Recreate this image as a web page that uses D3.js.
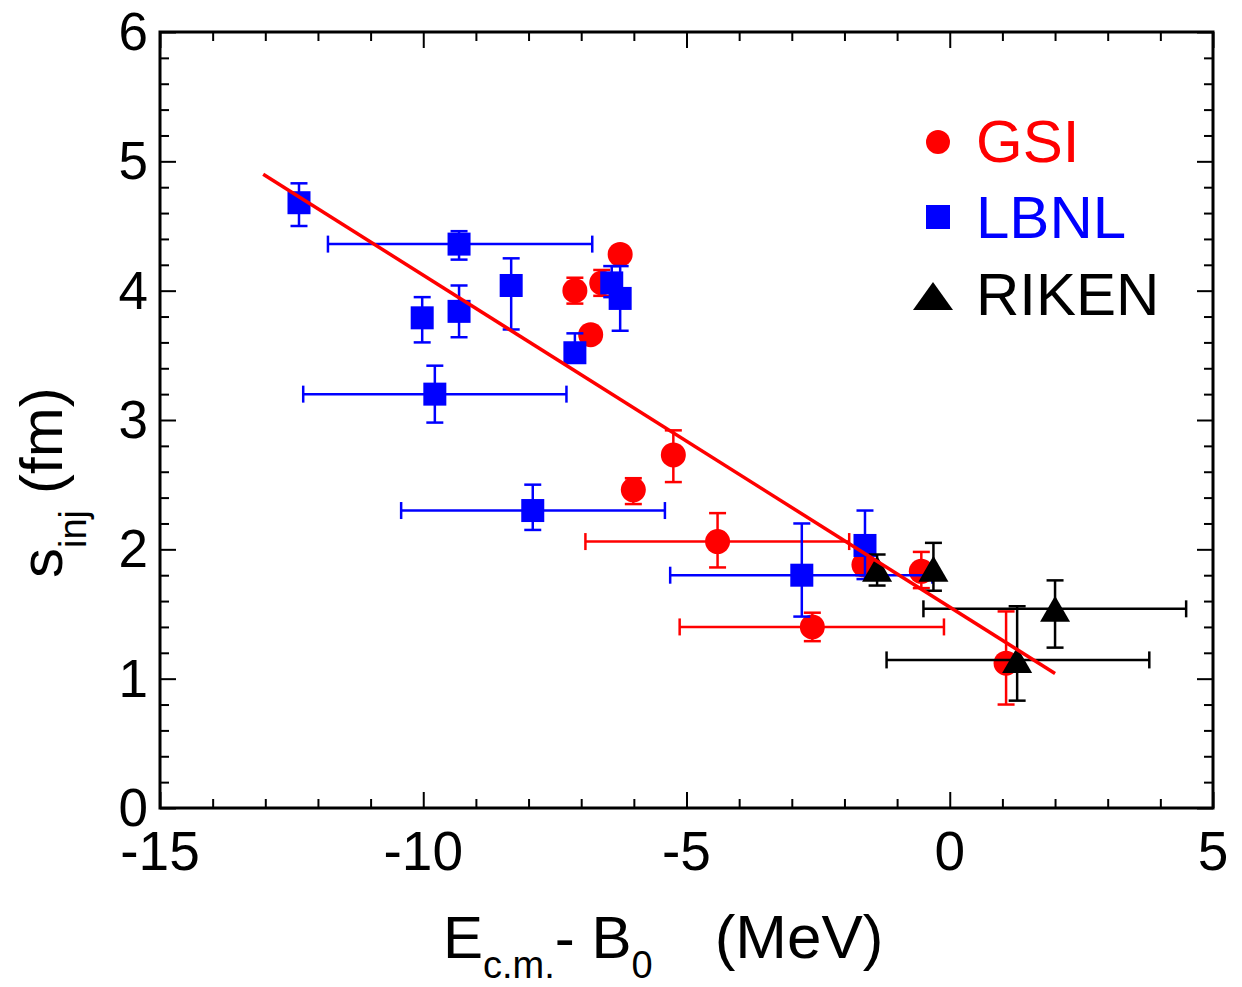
<!DOCTYPE html>
<html>
<head>
<meta charset="utf-8">
<script src="https://cdn.jsdelivr.net/npm/d3@7"></script>
<style>
  html, body { margin: 0; padding: 0; background: #fff; }
  svg { display: block; }
  text { font-family: "Liberation Sans", Arial, Helvetica, sans-serif; }
</style>
</head>
<body>
<svg id="chart" width="1242" height="987"></svg>
<script>
// ---------------- DATA ----------------
const xTickValues = [-15, -10, -5, 0, 5];
const yTickValues = [0, 1, 2, 3, 4, 5, 6];

// GSI (red circles)
const gsiX     = [-6.26, -7.12, -6.61, -6.82, -5.25, -6.01, -4.41, -1.63, -0.54, -2.61, 1.07];
const gsiY     = [ 4.28,  4.00,  4.06,  3.66,  2.73,  2.46,  2.06,  1.88,  1.83,  1.40, 1.12];
const gsiYLow  = [ 4.23,  3.90,  3.96,  3.61,  2.52,  2.35,  1.86,  1.80,  1.70,  1.29, 0.80];
const gsiYHigh = [ 4.33,  4.10,  4.16,  3.71,  2.92,  2.55,  2.28,  1.96,  1.98,  1.51, 1.52];
const gsiXLow  = [ null,  null,  null,  null,  null,  null, -6.92,  null,  null, -5.13, null];
const gsiXHigh = [ null,  null,  null,  null,  null,  null, -1.91,  null,  null, -0.11, null];

// LBNL (blue squares)
const lbnlX     = [-12.36, -9.32, -8.33, -10.02, -9.32, -7.12, -9.78, -6.42, -6.26, -7.92, -2.81, -1.61];
const lbnlY     = [  4.68,  4.36,  4.04,   3.79,  3.84,  3.52,  3.20,  4.06,  3.94,  2.30,  1.80,  2.03];
const lbnlYLow  = [  4.50,  4.24,  3.70,   3.60,  3.64,  3.45,  2.98,  3.95,  3.69,  2.15,  1.48,  1.77];
const lbnlYHigh = [  4.83,  4.46,  4.25,   3.95,  4.04,  3.67,  3.42,  4.19,  4.19,  2.50,  2.20,  2.30];
const lbnlXLow  = [  null, -11.81, null,   null,  null,  null, -12.28, null,  null, -10.42, -5.31, null];
const lbnlXHigh = [  null,  -6.79, null,   null,  null,  null,  -7.28, null,  null,  -5.41, -0.33, null];

// RIKEN (black triangles)
const rikenX     = [-1.38, -0.31, 2.00, 1.28];
const rikenY     = [ 1.85,  1.85, 1.54, 1.145];
const rikenYLow  = [ 1.72,  1.68, 1.24, 0.83];
const rikenYHigh = [ 1.96,  2.05, 1.76, 1.56];
const rikenXLow  = [ null,  null, -0.50, -1.20];
const rikenXHigh = [ null,  null,  4.49,  3.79];

// Linear fit line endpoints
const fitX = [-13.04, 2.00];
const fitY = [4.90, 1.04];

// ---------------- LAYOUT ----------------
const svg = d3.select("#chart");
const L = 160, R = 1213, T = 32, B = 808;
const x = d3.scaleLinear().domain([-15, 5]).range([L, R]);
const y = d3.scaleLinear().domain([0, 6]).range([B, T]);

const RED = "#ff0000", BLUE = "#0000ff", BLACK = "#000000";

// ---------------- AXES (ticks inside, all four sides) ----------------
const majorLen = 16, minorLen = 9;
const xMinor = d3.range(-15, 5.001, 1).filter(v => !xTickValues.includes(v));
const yMinor = d3.range(0, 6.001, 0.2).map(v => +v.toFixed(1)).filter(v => !yTickValues.includes(v));

function addAxis(axisGen, transform) {
  const g = svg.append("g").attr("transform", transform).call(axisGen);
  g.select(".domain").remove();
  g.selectAll(".tick line").attr("stroke", "#000").attr("stroke-width", 2);
  return g;
}
// bottom
addAxis(d3.axisTop(x).tickValues(xTickValues).tickSize(majorLen).tickFormat(""), `translate(0,${B})`);
addAxis(d3.axisTop(x).tickValues(xMinor).tickSize(minorLen).tickFormat(""), `translate(0,${B})`);
// top
addAxis(d3.axisBottom(x).tickValues(xTickValues).tickSize(majorLen).tickFormat(""), `translate(0,${T})`);
addAxis(d3.axisBottom(x).tickValues(xMinor).tickSize(minorLen).tickFormat(""), `translate(0,${T})`);
// left
addAxis(d3.axisRight(y).tickValues(yTickValues).tickSize(majorLen).tickFormat(""), `translate(${L},0)`);
addAxis(d3.axisRight(y).tickValues(yMinor).tickSize(minorLen).tickFormat(""), `translate(${L},0)`);
// right
addAxis(d3.axisLeft(y).tickValues(yTickValues).tickSize(majorLen).tickFormat(""), `translate(${R},0)`);
addAxis(d3.axisLeft(y).tickValues(yMinor).tickSize(minorLen).tickFormat(""), `translate(${R},0)`);

// tick labels
svg.append("g").selectAll("text").data(xTickValues).join("text")
  .attr("x", d => x(d)).attr("y", 870)
  .attr("text-anchor", "middle")
  .attr("font-size", 55).attr("fill", "#000")
  .text(d => d);
svg.append("g").selectAll("text").data(yTickValues).join("text")
  .attr("x", 148).attr("y", d => y(d) + 18)
  .attr("text-anchor", "end")
  .attr("font-size", 53).attr("fill", "#000")
  .text(d => d);

// frame
svg.append("rect").attr("x", L).attr("y", T).attr("width", R - L).attr("height", B - T)
  .attr("fill", "none").attr("stroke", "#000").attr("stroke-width", 3);

// ---------------- AXIS TITLES ----------------
const xt = svg.append("text").attr("x", 443).attr("y", 958).attr("font-size", 60).attr("fill", "#000");
xt.append("tspan").text("E");
xt.append("tspan").attr("font-size", 38).attr("dy", 20).text("c.m.");
xt.append("tspan").attr("dy", -20).text("- B");
xt.append("tspan").attr("font-size", 38).attr("dy", 20).text("0");
xt.append("tspan").attr("dy", -20).attr("dx", 62).attr("font-size", 62).text("(MeV)");

const yt = svg.append("text").attr("transform", "translate(62,578) rotate(-90)")
  .attr("font-size", 60).attr("fill", "#000");
yt.append("tspan").text("s");
yt.append("tspan").attr("font-size", 38).attr("dy", 24).text("inj");
yt.append("tspan").attr("dy", -24).attr("dx", 16).text("(fm)");

// ---------------- DATA MARKS ----------------
const cap = 8.5;
function drawErrors(g, xs, ys, yl, yh, xl, xh, color) {
  const idx = d3.range(xs.length);
  const eg = g.append("g").attr("stroke", color).attr("stroke-width", 2.5).attr("fill", "none");
  idx.forEach(i => {
    const cx = x(xs[i]), cy = y(ys[i]);
    eg.append("line").attr("x1", cx).attr("x2", cx).attr("y1", y(yl[i])).attr("y2", y(yh[i]));
    eg.append("line").attr("x1", cx - cap).attr("x2", cx + cap).attr("y1", y(yl[i])).attr("y2", y(yl[i]));
    eg.append("line").attr("x1", cx - cap).attr("x2", cx + cap).attr("y1", y(yh[i])).attr("y2", y(yh[i]));
    if (xl[i] !== null) {
      eg.append("line").attr("x1", x(xl[i])).attr("x2", x(xh[i])).attr("y1", cy).attr("y2", cy);
      eg.append("line").attr("x1", x(xl[i])).attr("x2", x(xl[i])).attr("y1", cy - cap).attr("y2", cy + cap);
      eg.append("line").attr("x1", x(xh[i])).attr("x2", x(xh[i])).attr("y1", cy - cap).attr("y2", cy + cap);
    }
  });
}

const plot = svg.append("g");

// GSI
const gG = plot.append("g");
drawErrors(gG, gsiX, gsiY, gsiYLow, gsiYHigh, gsiXLow, gsiXHigh, RED);
gG.append("g").selectAll("circle").data(d3.range(gsiX.length)).join("circle")
  .attr("cx", i => x(gsiX[i])).attr("cy", i => y(gsiY[i])).attr("r", 12.5).attr("fill", RED);

// LBNL
const gL = plot.append("g");
drawErrors(gL, lbnlX, lbnlY, lbnlYLow, lbnlYHigh, lbnlXLow, lbnlXHigh, BLUE);
const sq = 23;
gL.append("g").selectAll("rect").data(d3.range(lbnlX.length)).join("rect")
  .attr("x", i => x(lbnlX[i]) - sq / 2).attr("y", i => y(lbnlY[i]) - sq / 2)
  .attr("width", sq).attr("height", sq).attr("fill", BLUE);

// RIKEN
const gR = plot.append("g");
drawErrors(gR, rikenX, rikenY, rikenYLow, rikenYHigh, rikenXLow, rikenXHigh, BLACK);
const tw = 30, th = 26;
gR.append("g").selectAll("path").data(d3.range(rikenX.length)).join("path")
  .attr("d", i => {
    const cx = x(rikenX[i]), cy = y(rikenY[i]);
    return `M${cx},${cy - th / 2}L${cx + tw / 2},${cy + th / 2}L${cx - tw / 2},${cy + th / 2}Z`;
  })
  .attr("fill", BLACK);

// Fit line
plot.append("path")
  .datum(d3.range(fitX.length))
  .attr("d", d3.line().x(i => x(fitX[i])).y(i => y(fitY[i])))
  .attr("stroke", RED).attr("stroke-width", 3.5).attr("fill", "none");

// ---------------- LEGEND ----------------
const leg = svg.append("g");
leg.append("circle").attr("cx", 938).attr("cy", 142).attr("r", 12).attr("fill", RED);
leg.append("text").attr("x", 976).attr("y", 162).attr("font-size", 60).attr("fill", RED).text("GSI");
leg.append("rect").attr("x", 926).attr("y", 205).attr("width", 24).attr("height", 24).attr("fill", BLUE);
leg.append("text").attr("x", 976).attr("y", 238).attr("font-size", 60).attr("fill", BLUE).text("LBNL");
leg.append("path").attr("d", "M933,282L953,310L913,310Z").attr("fill", BLACK);
leg.append("text").attr("x", 976).attr("y", 315).attr("font-size", 60).attr("fill", BLACK).text("RIKEN");
</script>
</body>
</html>
